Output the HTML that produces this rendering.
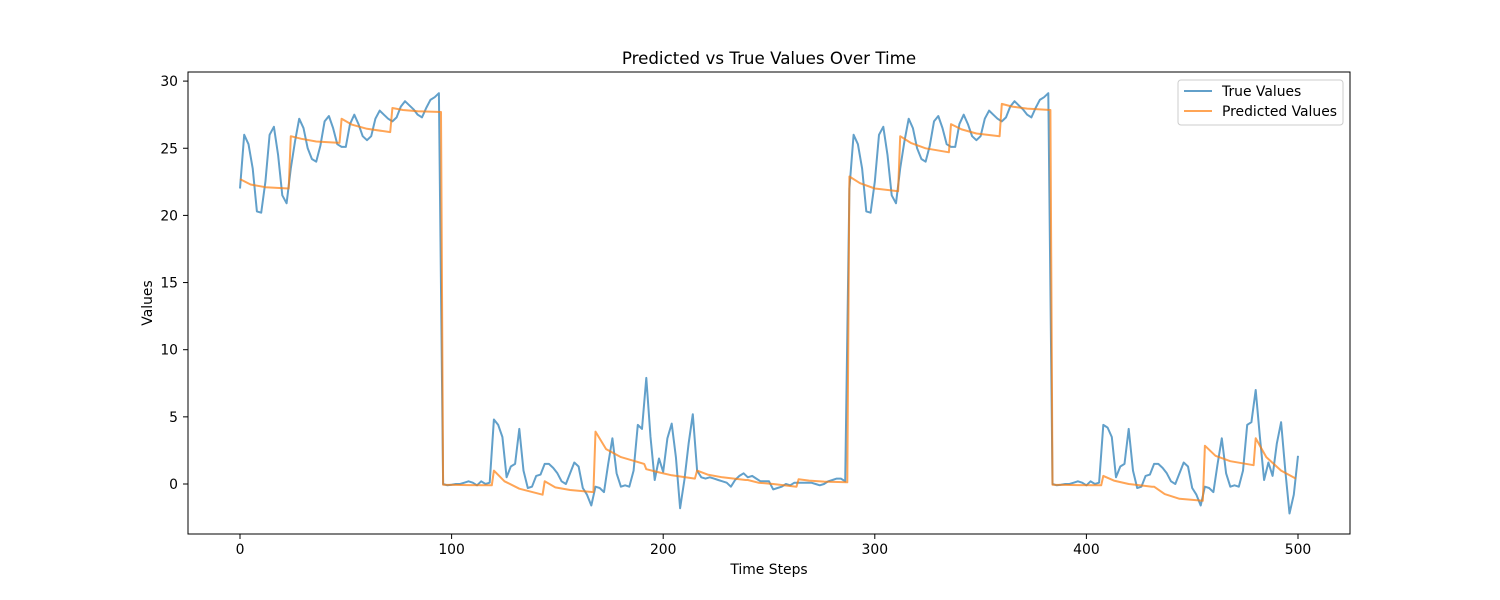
<!DOCTYPE html>
<html>
<head>
<meta charset="utf-8">
<style>
  body { margin: 0; background: #fff; }
  svg { display: block; font-family: "DejaVu Sans", "Liberation Sans", sans-serif; }
</style>
</head>
<body>
<svg id="chart" width="1500" height="600" viewBox="0 0 1500 600">
  <rect x="0" y="0" width="1500" height="600" fill="#fff"/>
  <text x="769" y="64" text-anchor="middle" font-size="16.7" fill="#000">Predicted vs True Values Over Time</text>
  <g id="xticks"></g>
  <g id="yticks"></g>
  <g id="series"></g>
  <rect x="188" y="72" width="1162" height="462" fill="none" stroke="#000" stroke-width="1"/>
  <text x="769" y="574" text-anchor="middle" font-size="13.9" fill="#000">Time Steps</text>
  <text x="152" y="303" text-anchor="middle" font-size="13.9" fill="#000" transform="rotate(-90 152 303)">Values</text>
  <g>
    <rect x="1178" y="80" width="165" height="45" rx="3" fill="#fff" fill-opacity="0.8" stroke="#ccc"/>
    <line x1="1184" y1="91" x2="1212" y2="91" stroke="#1f77b4" stroke-opacity="0.7" stroke-width="2"/>
    <text x="1222" y="96" font-size="13.9" fill="#000">True Values</text>
    <line x1="1184" y1="111" x2="1212" y2="111" stroke="#ff7f0e" stroke-opacity="0.7" stroke-width="2"/>
    <text x="1222" y="116" font-size="13.9" fill="#000">Predicted Values</text>
  </g>
</svg>
<script>
const xTickVals = [0, 100, 200, 300, 400, 500];
const yTickVals = [0, 5, 10, 15, 20, 25, 30];
const trueStepSize = 2;
const trueVals = [
22.0,26.0,25.3,23.5,20.3,20.2,22.5,26.0,26.6,24.5,21.5,20.9,23.5,25.5,27.2,26.5,25.0,24.2,24.0,25.2,27.0,27.4,26.5,25.3,25.1,25.1,26.8,27.5,26.8,25.9,25.6,25.9,27.2,27.8,27.5,27.2,27.0,27.3,28.1,28.5,28.2,27.9,27.5,27.3,28.0,28.6,28.8,29.1,
0.0,-0.1,-0.05,0.0,0.0,0.1,0.2,0.1,-0.1,0.2,0.0,0.1,4.8,4.4,3.5,0.5,1.3,1.5,4.1,1.0,-0.3,-0.2,0.6,0.7,1.5,1.5,1.2,0.8,0.2,0.0,0.8,1.6,1.3,-0.3,-0.8,-1.6,-0.2,-0.3,-0.6,1.5,3.4,0.8,-0.2,-0.1,-0.2,1.0,4.4,4.1,7.9,3.5,0.3,1.9,0.9,3.4,4.5,2.0,-1.8,0.3,3.0,5.2,1.0,0.5,0.4,0.5,0.4,0.3,0.2,0.1,-0.2,0.3,0.6,0.8,0.5,0.6,0.4,0.2,0.2,0.2,-0.4,-0.3,-0.2,0.0,-0.1,0.1,0.1,0.1,0.1,0.1,0.0,-0.1,0.0,0.2,0.3,0.4,0.4,0.2,
22.0,26.0,25.3,23.5,20.3,20.2,22.5,26.0,26.6,24.5,21.5,20.9,23.5,25.5,27.2,26.5,25.0,24.2,24.0,25.2,27.0,27.4,26.5,25.3,25.1,25.1,26.8,27.5,26.8,25.9,25.6,25.9,27.2,27.8,27.5,27.2,27.0,27.3,28.1,28.5,28.2,27.9,27.5,27.3,28.0,28.6,28.8,29.1,
0.0,-0.1,-0.05,0.0,0.0,0.1,0.2,0.1,-0.1,0.2,0.0,0.1,4.4,4.2,3.5,0.5,1.3,1.5,4.1,1.0,-0.3,-0.2,0.6,0.7,1.5,1.5,1.2,0.8,0.2,0.0,0.8,1.6,1.3,-0.3,-0.8,-1.6,-0.2,-0.3,-0.6,1.5,3.4,0.8,-0.2,-0.1,-0.2,1.0,4.4,4.6,7.0,3.5,0.3,1.6,0.6,3.0,4.6,1.0,-2.2,-0.8,2.1
];
const predSteps = [
0,5,12,23, 24,29,36,47, 48,53,60,71, 72,77,84,95,
96,101,108,119, 120,125,132,143, 144,149,156,167, 168,173,180,191,
192,197,204,215, 216,221,228,239, 240,245,252,263, 264,269,276,287,
288,293,300,311, 312,317,324,335, 336,341,348,359, 360,365,372,383,
384,389,396,407, 408,413,420,431, 432,437,444,455, 456,461,468,479,
480,485,492,499
];
const predVals = [
22.7,22.3,22.1,22.0, 25.9,25.7,25.5,25.4, 27.2,26.75,26.45,26.2, 28.0,27.85,27.75,27.7,
-0.05,-0.07,-0.08,-0.1, 1.0,0.2,-0.35,-0.8, 0.2,-0.25,-0.45,-0.6, 3.9,2.6,2.0,1.5,
1.1,0.9,0.65,0.4, 1.0,0.7,0.5,0.3, 0.3,0.1,0.0,-0.2, 0.35,0.25,0.18,0.13,
22.9,22.4,22.0,21.8, 25.9,25.4,25.0,24.7, 26.8,26.4,26.1,25.9, 28.3,28.1,27.95,27.85,
-0.05,-0.07,-0.08,-0.1, 0.6,0.25,0.0,-0.2, -0.2,-0.75,-1.1,-1.25, 2.85,2.1,1.7,1.4,
3.4,2.0,1.0,0.4
];

const X0 = 240, X500 = 1298, Y0 = 484, PX_PER_UNIT = 13.43;
function xScale(t) { return X0 + t * (X500 - X0) / 500; }
function yScale(v) { return Y0 - v * PX_PER_UNIT; }
const NS = 'http://www.w3.org/2000/svg';

const xg = document.getElementById('xticks');
xTickVals.forEach(function (t) {
  const x = xScale(t);
  const ln = document.createElementNS(NS, 'line');
  ln.setAttribute('x1', x); ln.setAttribute('x2', x);
  ln.setAttribute('y1', 534); ln.setAttribute('y2', 539);
  ln.setAttribute('stroke', '#000');
  
  
  xg.appendChild(ln);
  const tx = document.createElementNS(NS, 'text');
  tx.setAttribute('x', x); tx.setAttribute('y', 554);
  tx.setAttribute('text-anchor', 'middle');
  tx.setAttribute('font-size', '13.9');
  tx.textContent = t;
  
  
  xg.appendChild(tx);
});

const yg = document.getElementById('yticks');
yTickVals.forEach(function (v) {
  const y = yScale(v);
  const ln = document.createElementNS(NS, 'line');
  ln.setAttribute('x1', 183); ln.setAttribute('x2', 188);
  ln.setAttribute('y1', y); ln.setAttribute('y2', y);
  ln.setAttribute('stroke', '#000');
  
  
  yg.appendChild(ln);
  const tx = document.createElementNS(NS, 'text');
  tx.setAttribute('x', 178); tx.setAttribute('y', y + 5);
  tx.setAttribute('text-anchor', 'end');
  tx.setAttribute('font-size', '13.9');
  tx.textContent = v;
  
  
  yg.appendChild(tx);
});

const sg = document.getElementById('series');
const truePts = trueVals.map(function (v, i) {
  return xScale(i * trueStepSize).toFixed(1) + ',' + yScale(v).toFixed(1);
}).join(' ');
const tl = document.createElementNS(NS, 'polyline');
tl.setAttribute('points', truePts);
tl.setAttribute('fill', 'none');
tl.setAttribute('stroke', '#1f77b4');
tl.setAttribute('stroke-opacity', '0.7');
tl.setAttribute('stroke-width', '2');
tl.setAttribute('stroke-linejoin', 'round');


sg.appendChild(tl);

const predPts = predSteps.map(function (t, i) {
  return xScale(t).toFixed(1) + ',' + yScale(predVals[i]).toFixed(1);
}).join(' ');
const pl = document.createElementNS(NS, 'polyline');
pl.setAttribute('points', predPts);
pl.setAttribute('fill', 'none');
pl.setAttribute('stroke', '#ff7f0e');
pl.setAttribute('stroke-opacity', '0.7');
pl.setAttribute('stroke-width', '2');
pl.setAttribute('stroke-linejoin', 'round');


sg.appendChild(pl);
</script>
</body>
</html>
